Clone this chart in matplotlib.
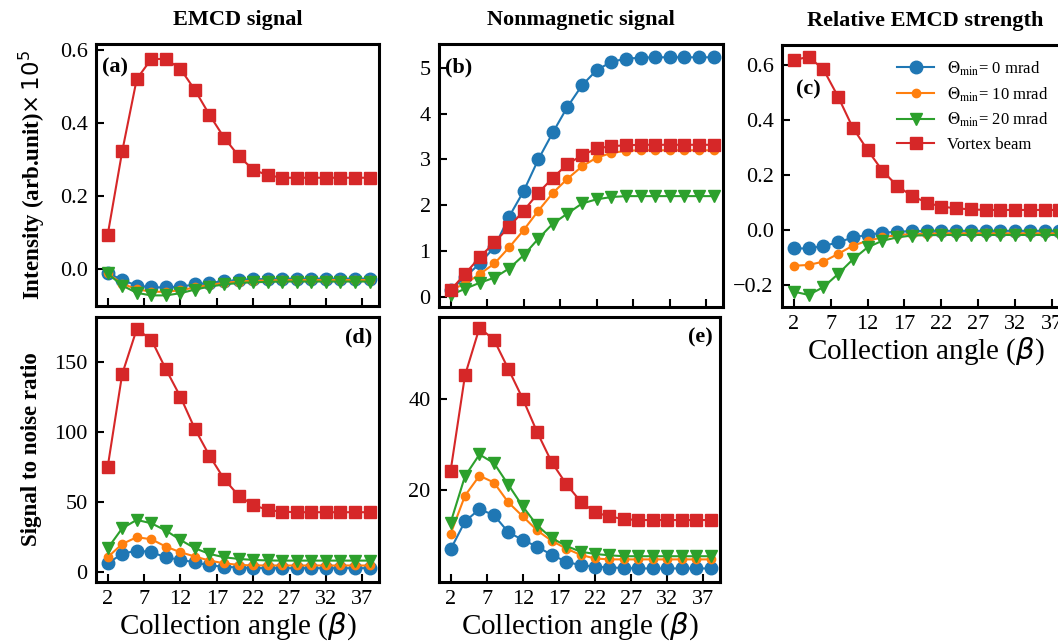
import matplotlib
matplotlib.use("Agg")
import matplotlib.pyplot as plt

plt.rcParams["font.family"] = ["Liberation Serif", "DejaVu Serif"]
plt.rcParams["mathtext.fontset"] = "dejavusans"
plt.rcParams["axes.unicode_minus"] = True

# ======================== data ========================
beta = [2, 4, 6, 8, 10, 12, 14, 16, 18, 20, 22, 24, 26, 28, 30, 32, 34, 36, 38]
xticks = [2, 7, 12, 17, 22, 27, 32, 37]

# (a) EMCD signal
emcd_0 = [-0.010, -0.030, -0.045, -0.050, -0.050, -0.048, -0.042, -0.038, -0.033, -0.030,
          -0.028, -0.027, -0.026, -0.026, -0.026, -0.026, -0.026, -0.026, -0.026]
emcd_10 = [-0.012, -0.040, -0.055, -0.062, -0.062, -0.058, -0.050, -0.043, -0.038, -0.034,
           -0.032, -0.031, -0.030, -0.030, -0.030, -0.030, -0.030, -0.030, -0.030]
emcd_20 = [-0.012, -0.045, -0.065, -0.072, -0.072, -0.066, -0.056, -0.048, -0.042, -0.038,
           -0.036, -0.035, -0.034, -0.034, -0.034, -0.034, -0.034, -0.034, -0.034]
emcd_v = [0.093, 0.322, 0.520, 0.575, 0.575, 0.548, 0.490, 0.422, 0.360, 0.310,
          0.272, 0.257, 0.250, 0.250, 0.250, 0.250, 0.250, 0.250, 0.250]

# (b) Nonmagnetic signal
nm_0 = [0.15, 0.44, 0.73, 1.09, 1.75, 2.31, 3.00, 3.59, 4.15, 4.62,
        4.95, 5.13, 5.20, 5.22, 5.23, 5.23, 5.23, 5.23, 5.23]
nm_10 = [0.15, 0.29, 0.50, 0.73, 1.08, 1.46, 1.88, 2.27, 2.58, 2.85,
         3.04, 3.14, 3.19, 3.20, 3.20, 3.20, 3.20, 3.20, 3.20]
nm_20 = [0.04, 0.18, 0.31, 0.42, 0.62, 0.91, 1.27, 1.60, 1.82, 2.04,
         2.13, 2.18, 2.20, 2.20, 2.20, 2.20, 2.20, 2.20, 2.20]
nm_v = [0.15, 0.51, 0.87, 1.19, 1.53, 1.88, 2.27, 2.60, 2.90, 3.09,
        3.24, 3.29, 3.31, 3.32, 3.32, 3.32, 3.32, 3.32, 3.32]

# (c) Relative EMCD strength
rel_0 = [-0.067, -0.067, -0.058, -0.045, -0.027, -0.018, -0.010, -0.006, -0.004, -0.003,
         -0.003, -0.003, -0.003, -0.003, -0.003, -0.003, -0.003, -0.003, -0.003]
rel_10 = [-0.130, -0.127, -0.115, -0.087, -0.057, -0.039, -0.027, -0.018, -0.015, -0.013,
          -0.012, -0.012, -0.012, -0.012, -0.012, -0.012, -0.012, -0.012, -0.012]
rel_20 = [-0.224, -0.236, -0.208, -0.160, -0.107, -0.063, -0.039, -0.027, -0.020, -0.019,
          -0.018, -0.018, -0.018, -0.018, -0.018, -0.018, -0.018, -0.018, -0.018]
rel_v = [0.618, 0.630, 0.585, 0.485, 0.372, 0.291, 0.216, 0.161, 0.124, 0.100,
         0.085, 0.079, 0.075, 0.073, 0.073, 0.073, 0.073, 0.073, 0.073]

# (d) SNR of EMCD signal
snr_0 = [6.4, 13.1, 15.5, 14.3, 10.7, 8.8, 7.1, 4.8, 4.0, 3.3,
         3.0, 2.9, 2.9, 2.9, 2.9, 2.9, 2.9, 2.9, 2.9]
snr_10 = [10.7, 20.2, 25.0, 23.6, 18.3, 14.3, 11.2, 8.3, 6.4, 5.2,
          4.9, 4.8, 4.8, 4.8, 4.8, 4.8, 4.8, 4.8, 4.8]
snr_20 = [17.0, 31.4, 37.4, 35.0, 29.8, 23.1, 17.1, 13.1, 10.7, 9.5,
          8.8, 8.4, 8.3, 8.3, 8.3, 8.3, 8.3, 8.3, 8.3]
snr_v = [75.0, 141.7, 173.8, 166.4, 145.2, 125.5, 102.4, 83.3, 66.7, 54.8,
         48.1, 44.5, 43.3, 42.9, 42.9, 42.9, 42.9, 42.9, 42.9]

# (e) SNR of nonmagnetic signal
snrn_0 = [6.8, 13.0, 15.7, 14.4, 10.6, 8.9, 7.4, 5.6, 4.1, 3.3,
          3.0, 2.8, 2.7, 2.6, 2.6, 2.6, 2.6, 2.6, 2.6]
snrn_10 = [10.2, 18.7, 23.1, 21.6, 17.2, 14.1, 11.0, 8.7, 7.0, 5.6,
           4.8, 4.6, 4.6, 4.6, 4.6, 4.6, 4.6, 4.6, 4.6]
snrn_20 = [12.7, 23.0, 27.8, 25.9, 21.1, 16.3, 12.1, 9.3, 7.6, 6.3,
           5.8, 5.5, 5.3, 5.3, 5.3, 5.3, 5.3, 5.3, 5.3]
snrn_v = [24.1, 45.3, 55.8, 53.2, 46.7, 40.1, 32.7, 26.1, 21.3, 17.4,
          15.0, 14.1, 13.5, 13.3, 13.3, 13.3, 13.3, 13.3, 13.3]

labels = [r"$\Theta_{\rm min}$= 0 mrad", r"$\Theta_{\rm min}$= 10 mrad",
          r"$\Theta_{\rm min}$= 20 mrad", "Vortex beam"]
colors = ["#1f77b4", "#ff7f0e", "#2ca02c", "#d62728"]
markers = ["o", "o", "v", "s"]
msizes = [9, 6, 9, 8.5]


def draw(ax, series):
    for ys, c, m, ms, lab in zip(series, colors, markers, msizes, labels):
        ax.plot(beta, ys, color=c, marker=m, markersize=ms, lw=1.5, label=lab)
    ax.set_xlim(0.4, 39.3)
    ax.set_xticks(xticks)
    ax.tick_params(direction="in", length=6, width=1.5, labelsize=16, pad=6)
    for sp in ax.spines.values():
        sp.set_linewidth(2.2)


fig = plt.figure(figsize=(10.58, 6.41), dpi=100)
W, H = 1058.0, 641.0


def add_axes(l, t, r, b):
    return fig.add_axes([l / W, 1 - b / H, (r - l) / W, (b - t) / H])


ax_a = add_axes(96, 44, 379, 306)
ax_b = add_axes(439, 44, 723, 307)
ax_c = add_axes(782, 45, 1069, 307)
ax_d = add_axes(96, 317, 379, 582)
ax_e = add_axes(439, 317, 720, 582)

draw(ax_a, [emcd_0, emcd_10, emcd_20, emcd_v])
draw(ax_b, [nm_0, nm_10, nm_20, nm_v])
draw(ax_c, [rel_0, rel_10, rel_20, rel_v])
draw(ax_d, [snr_0, snr_10, snr_20, snr_v])
draw(ax_e, [snrn_0, snrn_10, snrn_20, snrn_v])

ax_a.set_ylim(-0.101, 0.616)
ax_a.set_yticks([0.0, 0.2, 0.4, 0.6])
ax_b.set_ylim(-0.22, 5.52)
ax_b.set_yticks([0, 1, 2, 3, 4, 5])
ax_c.set_ylim(-0.28, 0.673)
ax_c.set_yticks([-0.2, 0.0, 0.2, 0.4, 0.6])
ax_d.set_ylim(-7, 182.5)
ax_d.set_yticks([0, 50, 100, 150])
ax_e.set_ylim(-0.4, 58.2)
ax_e.set_yticks([20, 40])

for ax in (ax_a, ax_b):
    ax.tick_params(labelbottom=False)
for ax in (ax_c, ax_d, ax_e):
    ax.set_xlabel(r"Collection angle ($\beta$)", fontsize=21, labelpad=1)

title_kw = dict(fontsize=16, fontweight="bold", pad=14)
ax_a.set_title("EMCD signal", **title_kw)
ax_b.set_title("Nonmagnetic signal", **title_kw)
ax_c.set_title("Relative EMCD strength", **title_kw)

ax_a.set_ylabel(r"Intensity (arb.unit)$\times\,10^5$", fontsize=16.5, fontweight="bold", labelpad=9)
ax_d.set_ylabel("Signal to noise ratio", fontsize=16.5, fontweight="bold", labelpad=9)

lab_kw = dict(fontsize=16, fontweight="bold")
ax_a.text(0.02, 0.95, "(a)", transform=ax_a.transAxes, ha="left", va="top", **lab_kw)
ax_b.text(0.02, 0.95, "(b)", transform=ax_b.transAxes, ha="left", va="top", **lab_kw)
ax_c.text(0.05, 0.87, "(c)", transform=ax_c.transAxes, ha="left", va="top", **lab_kw)
ax_d.text(0.975, 0.96, "(d)", transform=ax_d.transAxes, ha="right", va="top", **lab_kw)
ax_e.text(0.975, 0.96, "(e)", transform=ax_e.transAxes, ha="right", va="top", **lab_kw)

leg = ax_c.legend(loc="upper right", bbox_to_anchor=(0.97, 0.99), fontsize=12, frameon=False,
                  handlelength=2.2, labelspacing=0.45, borderaxespad=0.3)
for t in leg.get_texts():
    t.set_math_fontfamily("stix")

fig.savefig("out.png", dpi=100)
